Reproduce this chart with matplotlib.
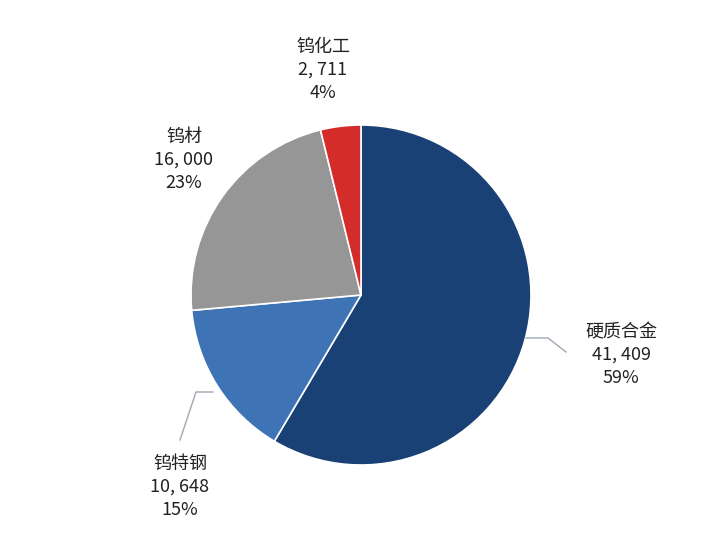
import matplotlib
matplotlib.use("Agg")
import matplotlib.pyplot as plt

plt.rcParams["font.family"] = ["Noto Sans CJK SC", "DejaVu Sans"]

categories = ["硬质合金", "钨特钢", "钨材", "钨化工"]
values = [41409, 10648, 16000, 2711]
colors = ["#1a4176", "#3e73b5", "#969696", "#d42b2b"]

W, H = 724, 546
fig = plt.figure(figsize=(W / 100, H / 100), dpi=100)
ax = fig.add_axes([0, 0, 1, 1])
ax.set_xlim(0, W)
ax.set_ylim(0, H)
ax.set_aspect("equal")
ax.axis("off")

cx, cy, r = 361, H - 295, 170
ax.pie(values, colors=colors, startangle=90, counterclock=False,
       center=(cx, cy), radius=r, frame=True,
       wedgeprops=dict(edgecolor="white", linewidth=1.2))
ax.set_xlim(0, W)
ax.set_ylim(0, H)
ax.axis("off")

total = sum(values)
label_pos = [(621, H - 355), (180, H - 487), (184, H - 160), (323, H - 70)]
for name, v, (lx, ly) in zip(categories, values, label_pos):
    txt = f"{name}\n{v:,}".replace(",", ", ") + f"\n{v / total * 100:.0f}%"
    ax.text(lx, ly, txt, ha="center", va="center", fontsize=13,
            linespacing=1.35, color="#222222")

# leader lines
ax.plot([526, 548, 566], [H - 338, H - 338, H - 352], color="#a0a8b4", lw=1)
ax.plot([213, 196, 180], [H - 392, H - 392, H - 440], color="#a0a8b4", lw=1)

fig.savefig("out.png", dpi=100, facecolor="white")
